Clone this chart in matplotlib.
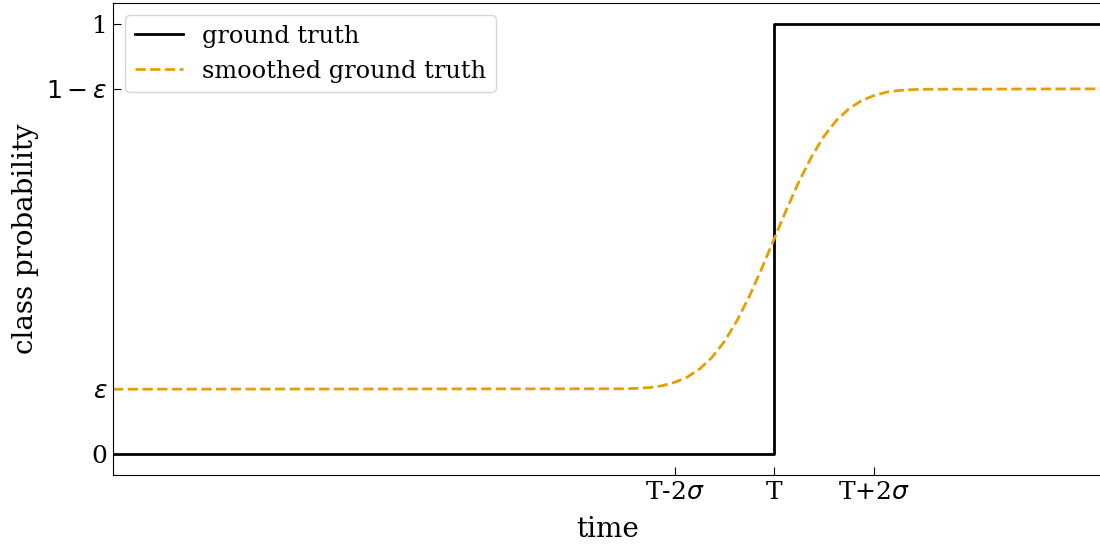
import matplotlib.pyplot as plt

plt.rcParams['font.family'] = 'DejaVu Serif'
plt.rcParams['font.size'] = 18

# time in units of sigma, step at T = 0
t_truth = [-13.3, 0.0, 0.0, 6.6]
p_truth = [0.0, 0.0, 1.0, 1.0]

t_smooth = [-13.3, -3.0, -2.75, -2.5, -2.25, -2.0, -1.75, -1.5, -1.25, -1.0, -0.75, -0.5, -0.25,
            0.0, 0.25, 0.5, 0.75, 1.0, 1.25, 1.5, 1.75, 2.0, 2.25, 2.5, 2.75, 3.0, 6.6]
p_smooth = [0.15, 0.151, 0.152, 0.154, 0.158, 0.166, 0.178, 0.197, 0.224, 0.261, 0.309, 0.366, 0.431,
            0.5, 0.569, 0.634, 0.691, 0.739, 0.776, 0.803, 0.822, 0.834, 0.842, 0.846, 0.848, 0.849, 0.85]

eps = 0.15
xticks = [-2, 0, 2]
xlabels = ['T-2$\\sigma$', 'T', 'T+2$\\sigma$']
yticks = [0, eps, 1 - eps, 1]
ylabels = ['0', '$\\epsilon$', '$1-\\epsilon$', '1']

fig = plt.figure(figsize=(11, 5.47), dpi=100)
ax = fig.add_axes([0.1027, 0.1316, 0.8993, 0.8629])

ax.plot(t_truth, p_truth, color='black', lw=2, label='ground truth')
ax.plot(t_smooth, p_smooth, color='#E69F00', lw=2, ls='--', label='smoothed ground truth')

ax.set_xlim(-13.3, 6.6)
ax.set_ylim(-0.05, 1.05)
ax.set_xticks(xticks, xlabels)
ax.set_yticks(yticks, ylabels)
ax.tick_params(direction='in', length=6, labelsize=18, pad=4)
ax.set_xlabel('time', fontsize=20, labelpad=9)
ax.set_ylabel('class probability', fontsize=20, labelpad=5)
ax.legend(loc='upper left', fontsize=17.3, borderaxespad=0.5)

fig.savefig('out.png')
